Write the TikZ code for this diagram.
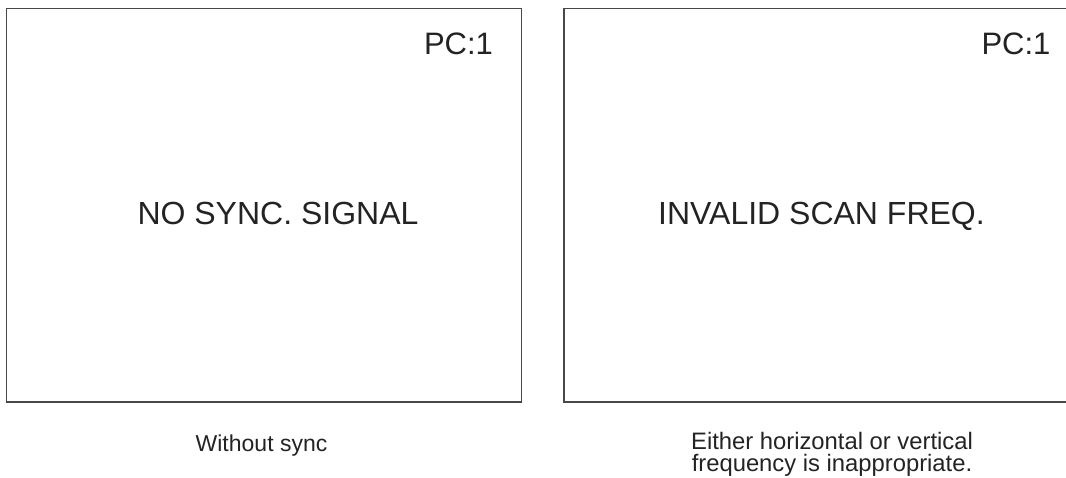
\documentclass[tikz,border=0pt]{standalone}
\usepackage{fontspec}
\setmainfont{Liberation Sans}
\usetikzlibrary{positioning,calc}
\definecolor{framegray}{RGB}{72,72,72}
\definecolor{inkgray}{RGB}{35,35,35}
\tikzset{
  screen/.style={draw=framegray, line width=1.3pt, minimum width=515pt, minimum height=393.5pt,
    inner sep=0pt},
  message/.style={font=\fontsize{32}{38}\selectfont, text=inkgray, inner sep=0pt, anchor=base},
  pctag/.style={font=\fontsize{31}{37}\selectfont, text=inkgray, inner sep=0pt, anchor=base east},
  caption/.style={font=\fontsize{23}{22}\selectfont, text=inkgray, align=center, inner sep=0pt,
    anchor=base}
}
\begin{document}
\begin{tikzpicture}[x=1pt, y=-1pt]
  \useasboundingbox (0,0) rectangle (1066,477);
  \clip (0,0) rectangle (1066,477);

  % Screens.
  \node[screen] (leftscreen) at (264,205.25) {};
  \node[screen] (rightscreen) at (821.5,205.25) {};

  % Input tags in the top right corners.
  \node[pctag] (lefttag) at ($(leftscreen.north east)+(-29,47)$) {PC:1};
  \node[pctag] (righttag) at ($(rightscreen.north east)+(-29,47)$) {PC:1};

  % On-screen messages.
  \node[message] (nosync) at ($(leftscreen.center)+(14,19)$) {NO SYNC. SIGNAL};
  \node[message] (invalid) at ($(rightscreen.center)+(0,19)$) {INVALID SCAN FREQ.};

  % Captions below the screens.
  \node[caption] (leftcap) at (261.5,451.5) {Without sync};
  \node[caption, font=\fontsize{23.8}{22}\selectfont] (rightcap) at (832,471)
    {Either horizontal or vertical\\frequency is inappropriate.};
\end{tikzpicture}
\end{document}
